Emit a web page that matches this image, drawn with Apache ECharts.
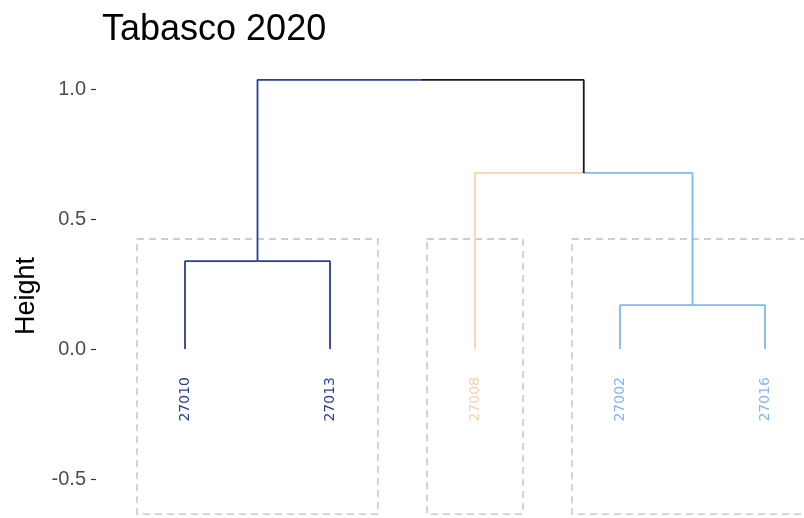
<!DOCTYPE html>
<html><head><meta charset="utf-8">
<script src="https://cdn.jsdelivr.net/npm/echarts@6/dist/echarts.min.js"></script>
<style>html,body{margin:0;padding:0;background:#fff}#c{width:804px;height:518px}</style>
</head><body><div id="c"></div>
<script>
// ---- data ----
const titleText = 'Tabasco 2020';
const axisTitle = 'Height';
const leaves = ['27010', '27013', '27008', '27002', '27016'];
const leafCluster = [0, 0, 1, 2, 2];
const clusterColors = ['#2B3F91', '#F5D3AE', '#85B4F7'];
// hclust-style merges: negative = leaf (1-based), positive = earlier merge (1-based)
const mergeLeft = [-1, -4, -3, 1];
const mergeRight = [-2, -5, 2, 3];
const mergeHeight = [0.338, 0.169, 0.677, 1.035];
const yTicks = [-0.5, 0, 0.5, 1.0];
const rectTop = 0.423;
const rectBottom = -0.635;

// ---- build tree geometry ----
const nodes = [];
function info(ref) {
  if (ref < 0) {
    const i = -ref - 1;
    return { x: i + 1, h: 0, clusters: new Set([leafCluster[i]]) };
  }
  return nodes[ref - 1];
}
const branches = [];
for (let k = 0; k < mergeHeight.length; k++) {
  const a = info(mergeLeft[k]), b = info(mergeRight[k]);
  const h = mergeHeight[k];
  const x = (a.x + b.x) / 2;
  [a, b].forEach(c => {
    const pure = c.clusters.size === 1;
    const col = pure ? clusterColors[[...c.clusters][0]] : '#1a1a1a';
    branches.push({ pts: [[c.x, c.h], [c.x, h], [x, h]], color: col });
  });
  nodes.push({ x, h, clusters: new Set([...a.clusters, ...b.clusters]) });
}
const rectPad = 0.331;
const rects = clusterColors.map((_, ci) => {
  const idx = leafCluster.map((c, i) => c === ci ? i + 1 : null).filter(v => v !== null);
  return [Math.min(...idx) - rectPad, Math.max(...idx) + rectPad, rectTop, rectBottom];
});

const series = [];
series.push({
  type: 'custom', z: 1, silent: true,
  encode: { x: [0, 1], y: [2, 3] },
  data: rects,
  renderItem: (params, api) => {
    const p0 = api.coord([api.value(0), api.value(3)]);
    const p1 = api.coord([api.value(1), api.value(2)]);
    return { type: 'rect', shape: { x: p0[0], y: p1[1], width: p1[0] - p0[0], height: p0[1] - p1[1] },
      style: { fill: 'none', stroke: '#BDBDBD', lineWidth: 1.3, lineDash: [7, 5] } };
  }
});
branches.forEach(br => {
  series.push({
    type: 'line', z: 3, silent: true, symbol: 'none', animation: false,
    data: br.pts, lineStyle: { color: br.color, width: 1.8 }
  });
});
series.push({
  type: 'custom', z: 4, silent: true,
  data: leaves.map((_, i) => [i + 1, 0]),
  renderItem: (params, api) => {
    const p = api.coord([api.value(0), api.value(1)]);
    const i = params.dataIndex;
    return { type: 'text', x: p[0], y: p[1] + 28, rotation: Math.PI / 2,
      style: { text: leaves[i], fill: clusterColors[leafCluster[i]], font: '14px "DejaVu Sans"',
        align: 'right', verticalAlign: 'middle' } };
  }
});

const chart = echarts.init(document.getElementById('c'));
chart.setOption({
  animation: false,
  backgroundColor: '#fff',
  title: { text: titleText, left: 102, top: 12, padding: 0,
    textStyle: { fontSize: 36, fontWeight: 'normal', color: '#000', fontFamily: 'Liberation Sans' } },
  grid: { left: 96, right: 0, top: 60, bottom: 0 },
  xAxis: { type: 'value', min: 0.3862, max: 5.269, show: false },
  yAxis: {
    type: 'value', min: -0.65, max: 1.1115,
    axisLine: { show: false }, splitLine: { show: false },
    axisTick: { show: true, length: 5, lineStyle: { color: '#333', width: 1.2 }, customValues: yTicks },
    axisLabel: { customValues: yTicks, formatter: v => v.toFixed(1), color: '#4D4D4D', fontSize: 20,
      fontFamily: 'Liberation Sans', margin: 10 },
    name: axisTitle, nameLocation: 'middle', nameGap: 56, nameRotate: 90,
    nameTextStyle: { fontSize: 27, color: '#000', fontFamily: 'Liberation Sans', padding: [0, 14, 0, 0] }
  },
  series
});
</script></body></html>
